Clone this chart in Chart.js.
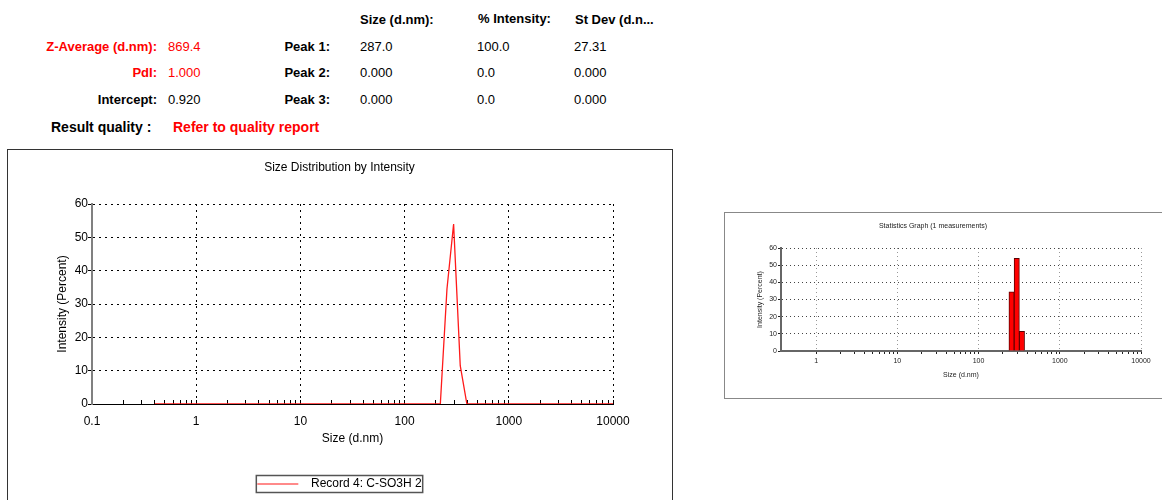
<!DOCTYPE html>
<html>
<head>
<meta charset="utf-8">
<title>Size Distribution by Intensity</title>
<script src="https://cdn.jsdelivr.net/npm/chart.js@4.4.1/dist/chart.umd.min.js"></script>
<style>
  body {
    margin: 0;
    background: #fff;
    font-family: 'Liberation Sans', Arial, sans-serif;
    width: 1162px;
    height: 500px;
    overflow: hidden;
    position: relative;
  }
  .txt {
    position: absolute;
    font-size: 13px;
    line-height: 16px;
    white-space: nowrap;
    color: #000;
  }
  .bold { font-weight: bold; }
  .red { color: #ff0000; }
  .big { font-size: 14px; }
  #mainBox {
    position: absolute;
    left: 7px;
    top: 149px;
    width: 664px;
    height: 370px;
    border: 1px solid #333;
  }
  #statBox {
    position: absolute;
    left: 724px;
    top: 212px;
    width: 470px;
    height: 185px;
    border: 1px solid #888;
  }
  canvas { position: absolute; }
</style>
</head>
<body>
<div id="summary"></div>
<div id="mainBox"></div>
<div id="statBox"></div>
<canvas id="sizeChart" width="663" height="350" style="left:8px; top:150px;"></canvas>
<canvas id="statChart" width="437" height="185" style="left:725px; top:213px;"></canvas>

<script>
'use strict';

// Summary table values
let summaryLabels = ['Z-Average (d.nm):', 'PdI:', 'Intercept:'];
let summaryValues = ['869.4', '1.000', '0.920'];
let summaryIsRed = [true, true, false];
let peakHeaders = ['Size (d.nm):', '% Intensity:', 'St Dev (d.n...'];
let peakLabels = ['Peak 1:', 'Peak 2:', 'Peak 3:'];
let peakSizes = ['287.0', '0.000', '0.000'];
let peakIntensities = ['100.0', '0.0', '0.0'];
let peakStDevs = ['27.31', '0.000', '0.000'];

// Size classes (d.nm) and intensity (%) for Record 4
let sizeClasses = [
  0.4, 0.4632, 0.5365, 0.6213, 0.7195, 0.8332, 0.9649, 1.117, 1.294, 1.499,
  1.736, 2.01, 2.328, 2.696, 3.122, 3.615, 4.187, 4.849, 5.615, 6.503,
  7.531, 8.721, 10.1, 11.7, 13.54, 15.69, 18.17, 21.04, 24.36, 28.21,
  32.67, 37.84, 43.82, 50.75, 58.77, 68.06, 78.82, 91.28, 105.7, 122.4,
  141.8, 164.2, 190.1, 220.2, 255, 295.3, 342, 396.1, 458.7, 531.2,
  615.1, 712.4, 825, 955.4, 1106, 1281, 1484, 1718, 1990, 2305,
  2669, 3091, 3580, 4145, 4801, 5560, 6439, 7456, 8635, 10000
];
let intensityPercent = [
  0, 0, 0, 0, 0, 0, 0, 0, 0, 0,
  0, 0, 0, 0, 0, 0, 0, 0, 0, 0,
  0, 0, 0, 0, 0, 0, 0, 0, 0, 0,
  0, 0, 0, 0, 0, 0, 0, 0, 0, 0,
  0, 0, 0, 0, 34.5, 54.0, 11.5, 0, 0, 0,
  0, 0, 0, 0, 0, 0, 0, 0, 0, 0,
  0, 0, 0, 0, 0, 0, 0, 0, 0, 0
];

// Axis ticks
let mainDecades = [0.1, 1, 10, 100, 1000, 10000];
let mainDecadeLabels = ['0.1', '1', '10', '100', '1000', '10000'];
let statDecades = [1, 10, 100, 1000, 10000];
let statDecadeLabels = ['1', '10', '100', '1000', '10000'];
let minorMultipliers = [1, 2, 3, 4, 5, 6, 7, 8, 9];

let recordName = 'Record 4: C-SO3H 2';

// ---- summary text ----
let summary = document.getElementById('summary');

function addText(text, left, centerY, classes, rightEdge) {
  let div = document.createElement('div');
  div.className = 'txt ' + (classes || '');
  div.textContent = text;
  div.style.top = (centerY - 8) + 'px';
  if (rightEdge) {
    div.style.left = '0px';
    div.style.width = rightEdge + 'px';
    div.style.textAlign = 'right';
  } else {
    div.style.left = left + 'px';
  }
  summary.appendChild(div);
}

let rowCenters = [47, 73, 100];
let columnLefts = [360, 477, 574];

addText(peakHeaders[0], 360, 20, 'bold');
addText(peakHeaders[1], 478, 19, 'bold');
addText(peakHeaders[2], 575, 20, 'bold');

for (let i = 0; i < rowCenters.length; i++) {
  let y = rowCenters[i];
  addText(summaryLabels[i], 0, y, 'bold' + (summaryIsRed[i] ? ' red' : ''), 157);
  addText(summaryValues[i], 168, y, summaryIsRed[i] ? 'red' : '');
  addText(peakLabels[i], 0, y, 'bold', 330);
  addText(peakSizes[i], columnLefts[0], y, '');
  addText(peakIntensities[i], columnLefts[1], y, '');
  addText(peakStDevs[i], columnLefts[2], y, '');
}
addText('Result quality :', 51, 127, 'bold big');
addText('Refer to quality report', 173, 127, 'bold red big');

// ---- helpers ----
function buildLogTicks(decades) {
  let ticks = [];
  for (let i = 0; i < decades.length; i++) {
    if (i === decades.length - 1) {
      ticks.push({ value: decades[i] });
      break;
    }
    for (let m = 0; m < minorMultipliers.length; m++) {
      ticks.push({ value: decades[i] * minorMultipliers[m] });
    }
  }
  return ticks;
}

let points = [];
for (let i = 0; i < sizeClasses.length; i++) {
  points.push({ x: sizeClasses[i], y: intensityPercent[i] });
}

Chart.defaults.font.family = "'Liberation Sans', Arial, sans-serif";
Chart.defaults.color = '#000';

// draws the frame round the legend entry
let legendFramePlugin = {
  id: 'legendFrame',
  afterDraw: function (chart) {
    if (!chart.legend || !chart.legend.legendHitBoxes || !chart.legend.legendHitBoxes.length) return;
    let hb = chart.legend.legendHitBoxes[0];
    let ctx = chart.ctx;
    ctx.save();
    ctx.strokeStyle = '#555';
    ctx.lineWidth = 1.5;
    ctx.strokeRect(hb.left - 1, hb.top - 2.5, hb.width + 2, hb.height + 5);
    ctx.restore();
  }
};

// ---- main chart ----
new Chart(document.getElementById('sizeChart').getContext('2d'), {
  type: 'line',
  data: {
    datasets: [{
      label: recordName,
      data: points,
      borderColor: '#ff1a1a',
      borderWidth: 1.3,
      pointRadius: 0,
      tension: 0,
      fill: false
    }]
  },
  options: {
    responsive: false,
    animation: false,
    layout: { padding: 0 },
    scales: {
      x: {
        type: 'logarithmic',
        min: 0.1,
        max: 10000,
        afterBuildTicks: function (scale) { scale.ticks = buildLogTicks(mainDecades); },
        afterFit: function (scale) { scale.height = 66; },
        ticks: {
          autoSkip: false,
          maxRotation: 0,
          minRotation: 0,
          padding: 14.8,
          font: { size: 12 },
          callback: function (value) {
            let idx = mainDecades.indexOf(value);
            return idx === -1 ? '' : mainDecadeLabels[idx];
          }
        },
        grid: {
          color: function (ctx) {
            return ctx.tick && mainDecades.indexOf(ctx.tick.value) !== -1 ? '#000' : 'rgba(0,0,0,0)';
          },
          tickColor: '#000',
          tickLength: -4,
          lineWidth: 1
        },
        border: { color: '#000', width: 1, dash: [2, 4] },
        title: {
          display: true,
          text: 'Size (d.nm)',
          font: { size: 12 },
          padding: { top: 4, bottom: 23.8 }
        }
      },
      y: {
        min: 0,
        max: 60,
        afterFit: function (scale) { scale.width = 84; },
        ticks: {
          stepSize: 5,
          padding: 0,
          font: { size: 12 },
          callback: function (value) { return value % 10 === 0 ? value : ''; }
        },
        grid: {
          color: function (ctx) {
            return ctx.tick && ctx.tick.value % 10 === 0 && ctx.tick.value > 0 ? '#000' : 'rgba(0,0,0,0)';
          },
          tickColor: '#000',
          tickLength: 4
        },
        border: { color: '#808080', width: 2, dash: [2, 4] },
        title: {
          display: true,
          text: 'Intensity (Percent)',
          font: { size: 12 },
          padding: { top: 47.8, bottom: 0 }
        }
      },
      // empty space on the right of the plot, keeps the legend centred on the frame
      spacer: {
        position: 'right',
        display: true,
        afterFit: function (scale) { scale.width = 58; },
        ticks: { display: false },
        grid: { display: false, drawTicks: false },
        border: { display: false }
      }
    },
    plugins: {
      title: {
        display: true,
        text: 'Size Distribution by Intensity',
        font: { size: 12, weight: 'normal' },
        color: '#000',
        padding: { top: 10.8, bottom: 28.8 }
      },
      legend: {
        position: 'bottom',
        labels: {
          usePointStyle: true,
          pointStyle: 'line',
          pointStyleWidth: 41,
          padding: 8,
          font: { size: 12 },
          generateLabels: function (chart) {
            let items = Chart.defaults.plugins.legend.labels.generateLabels(chart);
            items.forEach(function (item) {
              item.strokeStyle = '#ff8a8a';
              item.lineWidth = 2;
              item.pointStyle = 'line';
              item.text = '  ' + item.text;
            });
            return items;
          }
        }
      },
      tooltip: { enabled: false }
    }
  },
  plugins: [legendFramePlugin]
});

// ---- statistics graph ----
new Chart(document.getElementById('statChart').getContext('2d'), {
  type: 'bar',
  data: {
    datasets: [{
      label: recordName,
      data: points.map(function (p) { return { x: p.x, y: p.y > 0 ? p.y : null }; }),
      backgroundColor: '#ff0000',
      borderColor: '#5a0000',
      borderWidth: 1,
      barThickness: 5.3
    }]
  },
  options: {
    responsive: false,
    animation: false,
    layout: { padding: { left: 0, right: 21, top: 0, bottom: 0 } },
    scales: {
      x: {
        type: 'logarithmic',
        min: 0.37,
        max: 10000,
        offset: false,
        afterBuildTicks: function (scale) { scale.ticks = buildLogTicks(statDecades); },
        afterFit: function (scale) { scale.height = 47; },
        ticks: {
          autoSkip: false,
          maxRotation: 0,
          minRotation: 0,
          padding: 2.8,
          font: { size: 7 },
          color: '#222',
          callback: function (value) {
            let idx = statDecades.indexOf(value);
            return idx === -1 ? '' : statDecadeLabels[idx];
          }
        },
        grid: {
          offset: false,
          color: function (ctx) {
            return ctx.tick && statDecades.indexOf(ctx.tick.value) !== -1 ? '#999' : 'rgba(0,0,0,0)';
          },
          tickColor: '#222',
          tickLength: 3
        },
        border: { color: '#666', width: 2, dash: [1, 3] },
        title: {
          display: true,
          text: 'Size (d.nm)',
          font: { size: 7 },
          color: '#222',
          padding: { top: 2, bottom: 18.8 }
        }
      },
      y: {
        min: 0,
        max: 60,
        afterFit: function (scale) { scale.width = 56; },
        ticks: {
          stepSize: 5,
          padding: 1,
          font: { size: 7 },
          color: '#222',
          callback: function (value) { return value % 10 === 0 ? value : ''; }
        },
        grid: {
          color: function (ctx) {
            return ctx.tick && ctx.tick.value % 10 === 0 && ctx.tick.value > 0 ? '#444' : 'rgba(0,0,0,0)';
          },
          tickColor: '#222',
          tickLength: 3
        },
        border: { color: '#666', width: 2, dash: [1, 3] },
        title: {
          display: true,
          text: 'Intensity (Percent)',
          font: { size: 7 },
          color: '#222',
          padding: { top: 30.8, bottom: 0 }
        }
      }
    },
    plugins: {
      title: {
        display: true,
        text: 'Statistics Graph (1 measurements)',
        font: { size: 7, weight: 'normal' },
        color: '#222',
        padding: { top: 8.8, bottom: 17.8 }
      },
      legend: { display: false },
      tooltip: { enabled: false }
    }
  }
});
</script>
</body>
</html>
